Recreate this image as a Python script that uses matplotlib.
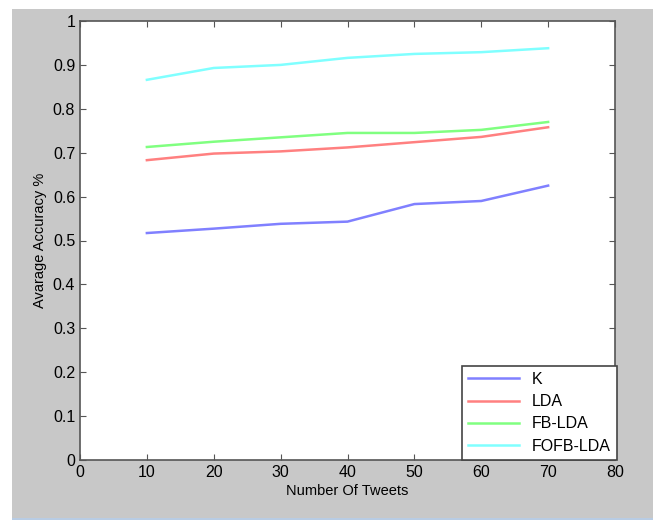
import matplotlib.pyplot as plt
from matplotlib.patches import Rectangle

tweets = [10, 20, 30, 40, 50, 60, 70]
k_acc = [0.517, 0.527, 0.538, 0.543, 0.583, 0.590, 0.625]
lda_acc = [0.683, 0.698, 0.703, 0.712, 0.724, 0.736, 0.758]
fblda_acc = [0.713, 0.725, 0.735, 0.745, 0.745, 0.752, 0.770]
fofblda_acc = [0.866, 0.893, 0.900, 0.916, 0.925, 0.929, 0.938]

plt.rcParams['font.family'] = ['Liberation Sans', 'DejaVu Sans']

fig = plt.figure(figsize=(6.53, 5.2), dpi=100)
fig.patch.set_facecolor('white')
# grey matlab-style window area
fig.patches.append(Rectangle((12 / 653, 2 / 520), 1, 509 / 520, transform=fig.transFigure,
                             facecolor='#c8c8c8', edgecolor='none', zorder=-10))
fig.patches.append(Rectangle((12 / 653, 0), 1, 2 / 520, transform=fig.transFigure,
                             facecolor='#b8cce4', edgecolor='none', zorder=-10))

ax = fig.add_axes([80 / 653, 60 / 520, 535 / 653, 439 / 520])
ax.plot(tweets, k_acc, color='#8080ff', lw=1.8, label='K')
ax.plot(tweets, lda_acc, color='#ff8080', lw=1.8, label='LDA')
ax.plot(tweets, fblda_acc, color='#80ff80', lw=1.8, label='FB-LDA')
ax.plot(tweets, fofblda_acc, color='#80ffff', lw=1.8, label='FOFB-LDA')

ax.set_xlim(0, 80)
ax.set_ylim(0, 1)
ax.set_xticks(range(0, 81, 10))
ax.set_yticks([i / 10 for i in range(11)])
ax.set_yticklabels(['0', '0.1', '0.2', '0.3', '0.4', '0.5', '0.6', '0.7', '0.8', '0.9', '1'])
ax.tick_params(direction='in', top=True, right=True, length=4, labelsize=11.5, color='#555555')
for s in ax.spines.values():
    s.set_color('#555555')
    s.set_linewidth(1.2)
ax.set_xlabel('Number Of Tweets', fontsize=10.5, labelpad=3)
ax.set_ylabel('Avarage Accuracy %', fontsize=10.5, labelpad=4)

leg = ax.legend(loc='lower right', bbox_to_anchor=(1.004, 0), fontsize=11.5,
                fancybox=False, framealpha=1, edgecolor='#444444',
                handlelength=3.2, borderaxespad=0, labelspacing=0.45)
leg.get_frame().set_linewidth(1.2)

fig.savefig('out.png', dpi=100, facecolor=fig.get_facecolor())
